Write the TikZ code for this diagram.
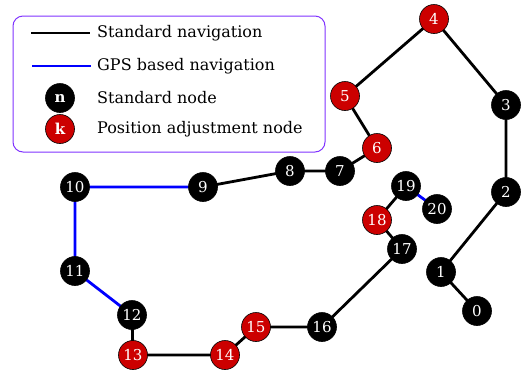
\documentclass[tikz,border=0pt]{standalone}
\usepackage{fontspec}
\setmainfont{DejaVu Serif}
\definecolor{adjred}{HTML}{CC0000}
\definecolor{legframe}{HTML}{8033FF}
\definecolor{gpsblue}{HTML}{0000FF}
\begin{document}
\begin{tikzpicture}[x=1pt,y=-1pt,
  stdnode/.style={circle,fill=black,draw=black,line width=0.6pt,minimum size=29pt,inner sep=0pt,text=white,font=\fontsize{15}{16}\selectfont},
  adjnode/.style={stdnode,fill=adjred},
  nav/.style={line width=2.8pt,black},
  gps/.style={line width=2.8pt,gpsblue},
  legtext/.style={anchor=west,inner sep=0pt,font=\fontsize{16}{19}\selectfont}]
\useasboundingbox (0,0) rectangle (522,376);
% legend
\draw[legframe,line width=1pt,rounded corners=10pt] (13,16) rectangle (325,152);
\coordinate (la1) at (31,33); \coordinate (lb1) at (90,33);
\coordinate (la2) at (32,66); \coordinate (lb2) at (91,66);
\draw[nav] (la1) -- (lb1);
\draw[gps] (la2) -- (lb2);
\node[stdnode,font=\fontsize{15}{16}\bfseries] (ln) at (60,98) {n};
\node[adjnode,font=\fontsize{15}{16}\bfseries] (lk) at (60,129) {k};
\node[legtext] (t1) at (97,33) {Standard navigation};
\node[legtext] (t2) at (97,66) {GPS based navigation};
\node[legtext] (t3) at (97,98) {Standard node};
\node[legtext] (t4) at (97,129) {Position adjustment node};
% edges (drawn first, nodes on top)
\coordinate (c0) at (477,311);
\coordinate (c1) at (441,272);
\coordinate (c2) at (506,192);
\coordinate (c3) at (506,105);
\coordinate (c4) at (434,19);
\coordinate (c5) at (345,96);
\coordinate (c6) at (377,148);
\coordinate (c7) at (340,171);
\coordinate (c8) at (290,171);
\coordinate (c9) at (203,187);
\coordinate (c10) at (75,187);
\coordinate (c11) at (75,271);
\coordinate (c12) at (132,315);
\coordinate (c13) at (133,355);
\coordinate (c14) at (225,355);
\coordinate (c15) at (256,327);
\coordinate (c16) at (322,327);
\coordinate (c17) at (402,249);
\coordinate (c18) at (377,220);
\coordinate (c19) at (406,186);
\coordinate (c20) at (437,209);
\draw[nav] (c0) -- (c1) -- (c2) -- (c3) -- (c4) -- (c5) -- (c6) -- (c7) -- (c8) -- (c9);
\draw[gps] (c9) -- (c10) -- (c11) -- (c12);
\draw[nav] (c12) -- (c13) -- (c14) -- (c15) -- (c16) -- (c17) -- (c18) -- (c19);
\draw[gps] (c19) -- (c20);
% nodes
\node[stdnode] (n0) at (c0) {0};
\node[stdnode] (n1) at (c1) {1};
\node[stdnode] (n2) at (c2) {2};
\node[stdnode] (n3) at (c3) {3};
\node[adjnode] (n4) at (c4) {4};
\node[adjnode] (n5) at (c5) {5};
\node[adjnode] (n6) at (c6) {6};
\node[stdnode] (n7) at (c7) {7};
\node[stdnode] (n8) at (c8) {8};
\node[stdnode] (n9) at (c9) {9};
\node[stdnode] (n10) at (c10) {10};
\node[stdnode] (n11) at (c11) {11};
\node[stdnode] (n12) at (c12) {12};
\node[adjnode] (n13) at (c13) {13};
\node[adjnode] (n14) at (c14) {14};
\node[adjnode] (n15) at (c15) {15};
\node[stdnode] (n16) at (c16) {16};
\node[stdnode] (n17) at (c17) {17};
\node[adjnode] (n18) at (c18) {18};
\node[stdnode] (n19) at (c19) {19};
\node[stdnode] (n20) at (c20) {20};
\end{tikzpicture}
\end{document}
